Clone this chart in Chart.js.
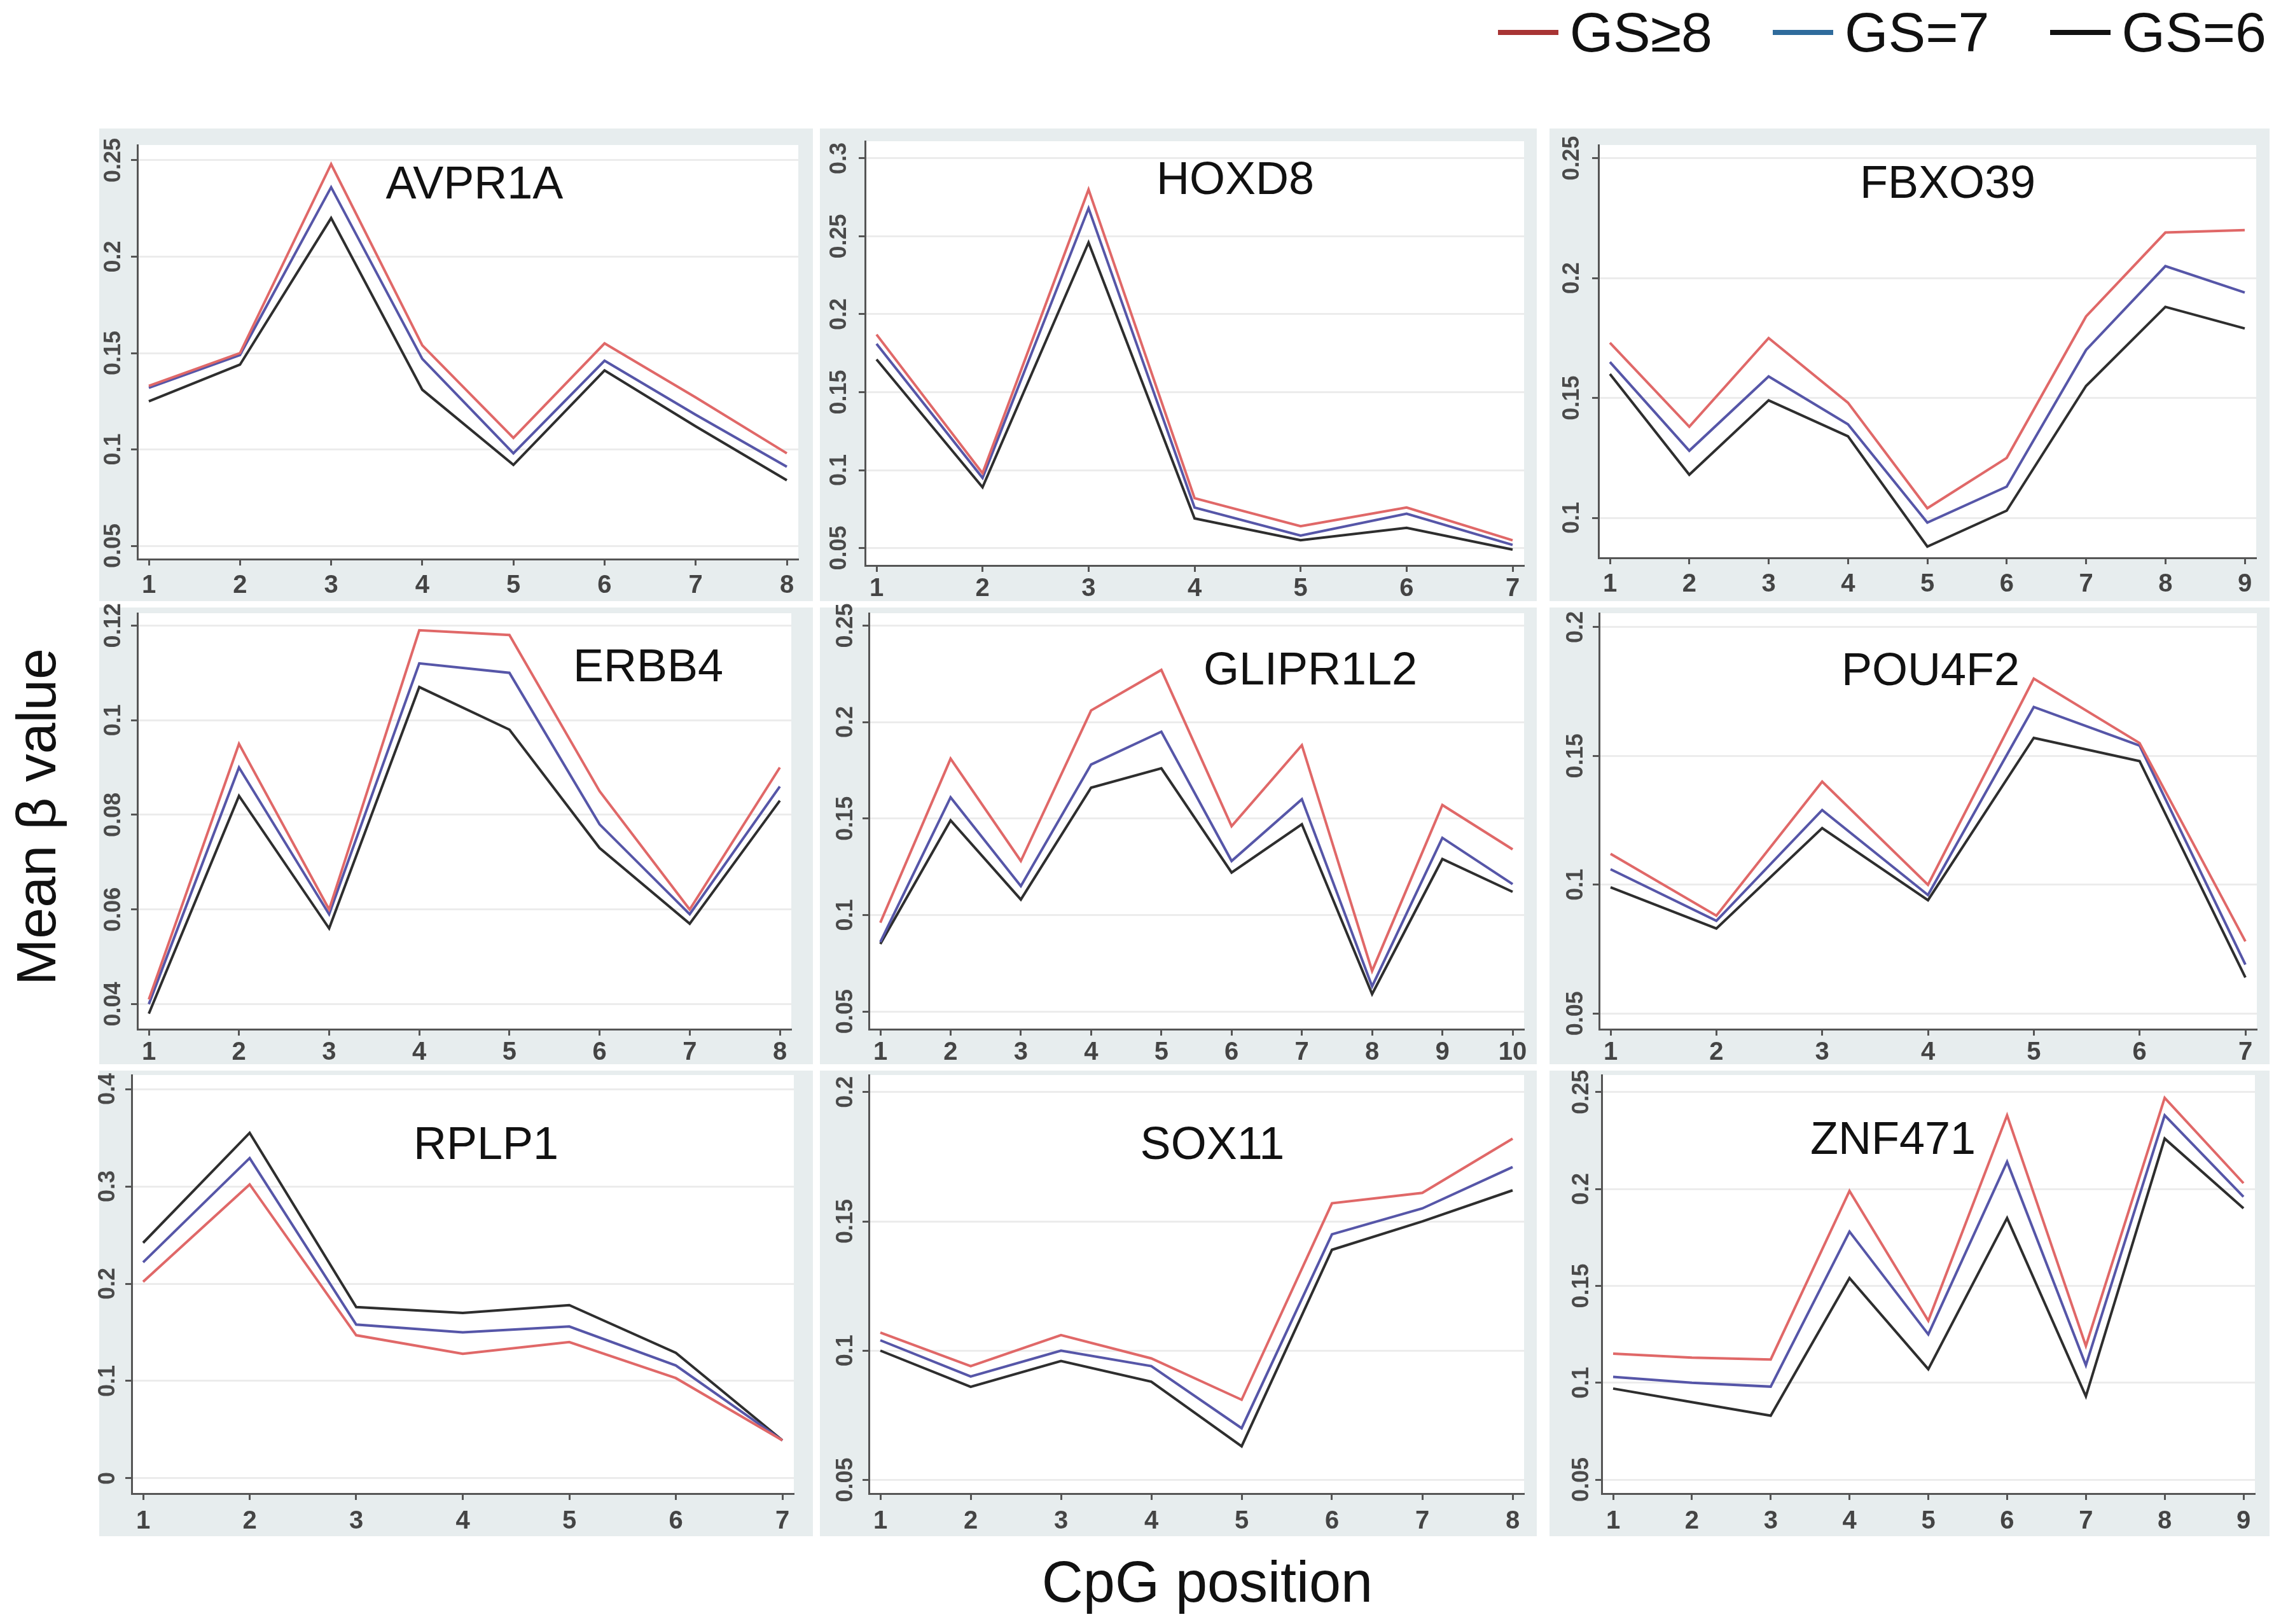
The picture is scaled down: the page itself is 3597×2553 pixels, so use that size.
<!DOCTYPE html>
<html>
<head>
<meta charset="utf-8">
<script src="https://cdn.jsdelivr.net/npm/chart.js@4.4.1/dist/chart.umd.min.js"></script>
<style>
  html, body { margin: 0; padding: 0; background: #fff; }
  body { width: 3597px; height: 2553px; position: relative; overflow: hidden;
         font-family: "Liberation Sans", Arial, sans-serif; }
  .panel { position: absolute; background: #e7edee; }
  .plot { position: absolute; }
  .gene { position: absolute; font-size: 72px; color: #111; line-height: 1;
          transform: translate(-50%, -50%); white-space: nowrap; }
  #legend { position: absolute; right: 34px; top: 7px; display: flex; align-items: center;
            font-size: 88px; line-height: 1; color: #111; }
  #legend .item { display: flex; align-items: center; margin-left: 95px; }
  #legend .swatch { width: 95px; height: 8px; margin-right: 18px; }
  .axis-title { position: absolute; font-size: 88px; line-height: 1; color: #111; white-space: nowrap; }
</style>
</head>
<body>
<div id="legend"></div>
<div class="axis-title" style="left:57px; top:1284px; transform: translate(-50%, -50%) rotate(-90deg);">Mean β value</div>
<div class="axis-title" style="left:1898px; top:2487px; transform: translate(-50%, -50%); font-size:90px;">CpG position</div>
<script>
// series / groups
const seriesNames = ['GS≥8', 'GS=7', 'GS=6'];

// CpG positions
const cpgAVPR1A = [1, 2, 3, 4, 5, 6, 7, 8];
const cpgHOXD8 = [1, 2, 3, 4, 5, 6, 7];
const cpgFBXO39 = [1, 2, 3, 4, 5, 6, 7, 8, 9];
const cpgERBB4 = [1, 2, 3, 4, 5, 6, 7, 8];
const cpgGLIPR1L2 = [1, 2, 3, 4, 5, 6, 7, 8, 9, 10];
const cpgPOU4F2 = [1, 2, 3, 4, 5, 6, 7];
const cpgRPLP1 = [1, 2, 3, 4, 5, 6, 7];
const cpgSOX11 = [1, 2, 3, 4, 5, 6, 7, 8];
const cpgZNF471 = [1, 2, 3, 4, 5, 6, 7, 8, 9];

// mean beta values
const avpr1aGs8 = [0.133, 0.150, 0.248, 0.154, 0.106, 0.155, 0.127, 0.098];
const avpr1aGs7 = [0.132, 0.149, 0.236, 0.147, 0.098, 0.146, 0.118, 0.091];
const avpr1aGs6 = [0.125, 0.144, 0.220, 0.131, 0.092, 0.141, 0.112, 0.084];

const hoxd8Gs8 = [0.187, 0.098, 0.280, 0.082, 0.064, 0.076, 0.055];
const hoxd8Gs7 = [0.181, 0.095, 0.268, 0.076, 0.058, 0.072, 0.052];
const hoxd8Gs6 = [0.171, 0.089, 0.246, 0.069, 0.055, 0.063, 0.049];

const fbxo39Gs8 = [0.173, 0.138, 0.175, 0.148, 0.104, 0.125, 0.184, 0.219, 0.220];
const fbxo39Gs7 = [0.165, 0.128, 0.159, 0.139, 0.098, 0.113, 0.170, 0.205, 0.194];
const fbxo39Gs6 = [0.160, 0.118, 0.149, 0.134, 0.088, 0.103, 0.155, 0.188, 0.179];

const erbb4Gs8 = [0.041, 0.095, 0.060, 0.119, 0.118, 0.085, 0.060, 0.090];
const erbb4Gs7 = [0.040, 0.090, 0.059, 0.112, 0.110, 0.078, 0.059, 0.086];
const erbb4Gs6 = [0.038, 0.084, 0.056, 0.107, 0.098, 0.073, 0.057, 0.083];

const glipr1l2Gs8 = [0.096, 0.181, 0.128, 0.206, 0.227, 0.146, 0.188, 0.071, 0.157, 0.134];
const glipr1l2Gs7 = [0.086, 0.161, 0.115, 0.178, 0.195, 0.128, 0.160, 0.063, 0.140, 0.116];
const glipr1l2Gs6 = [0.085, 0.149, 0.108, 0.166, 0.176, 0.122, 0.147, 0.059, 0.129, 0.112];

const pou4f2Gs8 = [0.112, 0.088, 0.140, 0.100, 0.180, 0.155, 0.078];
const pou4f2Gs7 = [0.106, 0.086, 0.129, 0.096, 0.169, 0.154, 0.069];
const pou4f2Gs6 = [0.099, 0.083, 0.122, 0.094, 0.157, 0.148, 0.064];

const rplp1Gs8 = [0.202, 0.302, 0.147, 0.128, 0.140, 0.103, 0.039];
const rplp1Gs7 = [0.222, 0.329, 0.158, 0.150, 0.156, 0.116, 0.039];
const rplp1Gs6 = [0.242, 0.355, 0.176, 0.170, 0.178, 0.129, 0.039];

const sox11Gs8 = [0.107, 0.094, 0.106, 0.097, 0.081, 0.157, 0.161, 0.182];
const sox11Gs7 = [0.104, 0.090, 0.100, 0.094, 0.070, 0.145, 0.155, 0.171];
const sox11Gs6 = [0.100, 0.086, 0.096, 0.088, 0.063, 0.139, 0.150, 0.162];

const znf471Gs8 = [0.115, 0.113, 0.112, 0.199, 0.132, 0.238, 0.119, 0.247, 0.203];
const znf471Gs7 = [0.103, 0.100, 0.098, 0.178, 0.125, 0.214, 0.109, 0.238, 0.196];
const znf471Gs6 = [0.097, 0.090, 0.083, 0.154, 0.107, 0.185, 0.093, 0.226, 0.190];

// y tick labels
const yTicksAVPR1A = [0.05, 0.1, 0.15, 0.2, 0.25];
const yTicksHOXD8 = [0.05, 0.1, 0.15, 0.2, 0.25, 0.3];
const yTicksFBXO39 = [0.1, 0.15, 0.2, 0.25];
const yTicksERBB4 = [0.04, 0.06, 0.08, 0.1, 0.12];
const yTicksGLIPR1L2 = [0.05, 0.1, 0.15, 0.2, 0.25];
const yTicksPOU4F2 = [0.05, 0.1, 0.15, 0.2];
const yTicksRPLP1 = [0, 0.1, 0.2, 0.3, 0.4];
const yTicksSOX11 = [0.05, 0.1, 0.15, 0.2];
const yTicksZNF471 = [0.05, 0.1, 0.15, 0.2, 0.25];

const panels = [
  { gene: 'AVPR1A', cpg: cpgAVPR1A, series: [avpr1aGs8, avpr1aGs7, avpr1aGs6], yTicks: yTicksAVPR1A },
  { gene: 'HOXD8', cpg: cpgHOXD8, series: [hoxd8Gs8, hoxd8Gs7, hoxd8Gs6], yTicks: yTicksHOXD8 },
  { gene: 'FBXO39', cpg: cpgFBXO39, series: [fbxo39Gs8, fbxo39Gs7, fbxo39Gs6], yTicks: yTicksFBXO39 },
  { gene: 'ERBB4', cpg: cpgERBB4, series: [erbb4Gs8, erbb4Gs7, erbb4Gs6], yTicks: yTicksERBB4 },
  { gene: 'GLIPR1L2', cpg: cpgGLIPR1L2, series: [glipr1l2Gs8, glipr1l2Gs7, glipr1l2Gs6], yTicks: yTicksGLIPR1L2 },
  { gene: 'POU4F2', cpg: cpgPOU4F2, series: [pou4f2Gs8, pou4f2Gs7, pou4f2Gs6], yTicks: yTicksPOU4F2 },
  { gene: 'RPLP1', cpg: cpgRPLP1, series: [rplp1Gs8, rplp1Gs7, rplp1Gs6], yTicks: yTicksRPLP1 },
  { gene: 'SOX11', cpg: cpgSOX11, series: [sox11Gs8, sox11Gs7, sox11Gs6], yTicks: yTicksSOX11 },
  { gene: 'ZNF471', cpg: cpgZNF471, series: [znf471Gs8, znf471Gs7, znf471Gs6], yTicks: yTicksZNF471 }
];

// layout: axis extents, panel boxes [frameL, frameT, frameR, frameB, plotL, plotT, plotR, axisY], title centres
const yRanges = [
  [0.0431, 0.2579], [0.0388, 0.311], [0.0833, 0.2555],
  [0.0347, 0.1226], [0.0408, 0.2564], [0.0439, 0.2054],
  [-0.0157, 0.4144], [0.0447, 0.2066], [0.0428, 0.2588]
];
const boxes = [
  [156, 202, 1278, 945, 216, 228, 1255, 879],
  [1289, 202, 2416, 945, 1360, 222, 2396, 889],
  [2436, 202, 3568, 945, 2513, 228, 3547, 877],
  [156, 955, 1278, 1673, 216, 964, 1244, 1618],
  [1289, 955, 2416, 1673, 1366, 964, 2396, 1618],
  [2436, 955, 3568, 1673, 2514, 964, 3548, 1618],
  [156, 1683, 1278, 2415, 207, 1690, 1248, 2348],
  [1289, 1683, 2416, 2415, 1366, 1690, 2396, 2348],
  [2436, 1683, 3568, 2415, 2518, 1690, 3545, 2348]
];
const xLabelPad = [8, 3, 8, 3, 3, 3, 10, 10, 10];
const yLabelOffset = [37, 40, 41, 37, 36, 36, 37, 36, 31];
const titlePos = [
  [746, 287], [1942, 280], [3062, 286],
  [1019, 1046], [2060, 1051], [3035, 1052],
  [764, 1797], [1906, 1797], [2976, 1789]
];
const bleed = 24;

const lineColors = ['#e06868', '#5656a8', '#2e2e2e'];
const legendColors = ['#a83434', '#2f6b9c', '#111111'];

// legend
const legend = document.getElementById('legend');
seriesNames.forEach((name, k) => {
  const item = document.createElement('div');
  item.className = 'item';
  const sw = document.createElement('div');
  sw.className = 'swatch';
  sw.style.background = legendColors[k];
  const txt = document.createElement('span');
  txt.textContent = name;
  item.appendChild(sw);
  item.appendChild(txt);
  legend.appendChild(item);
});

// white plot region
const plotBg = {
  id: 'plotBg',
  beforeDraw(chart) {
    const { ctx, chartArea: a } = chart;
    ctx.save();
    ctx.fillStyle = '#ffffff';
    ctx.fillRect(a.left, a.top, a.right - a.left, a.bottom - a.top);
    ctx.restore();
  }
};

const fontFamily = '"Liberation Sans", Arial, sans-serif';
const xTickFont = { family: fontFamily, size: 40, weight: 'bold' };
const yTickFont = { family: fontFamily, size: 36, weight: 'bold' };
const meas = document.createElement('canvas').getContext('2d');
meas.font = 'bold 36px ' + fontFamily;
const fmt = v => String(+Number(v).toFixed(3));

panels.forEach((p, i) => {
  const [fl, ft, fr, fb, pl, pt, pr, ay] = boxes[i];
  const frame = document.createElement('div');
  frame.className = 'panel';
  frame.style.left = fl + 'px';
  frame.style.top = ft + 'px';
  frame.style.width = (fr - fl) + 'px';
  frame.style.height = (fb - ft) + 'px';
  document.body.appendChild(frame);

  const wrap = document.createElement('div');
  wrap.className = 'plot';
  wrap.style.left = (fl - bleed) + 'px';
  wrap.style.top = (ft - bleed) + 'px';
  wrap.style.width = (fr - fl + 2 * bleed) + 'px';
  wrap.style.height = (fb - ft + 2 * bleed) + 'px';
  const cv = document.createElement('canvas');
  wrap.appendChild(cv);
  document.body.appendChild(wrap);

  const title = document.createElement('div');
  title.className = 'gene';
  title.textContent = p.gene;
  title.style.left = titlePos[i][0] + 'px';
  title.style.top = titlePos[i][1] + 'px';
  document.body.appendChild(title);

  const n = p.cpg.length;
  const pad = 18 * (n - 1) / (pr - pl - 36);
  const widest = Math.max(...p.yTicks.map(v => meas.measureText(fmt(v)).width));

  new Chart(cv, {
    type: 'line',
    data: {
      datasets: p.series.map((vals, k) => ({
        label: seriesNames[k],
        data: vals.map((v, j) => ({ x: p.cpg[j], y: v })),
        borderColor: lineColors[k],
        borderWidth: 4,
        pointRadius: 0,
        tension: 0,
        fill: false
      }))
    },
    options: {
      responsive: true,
      maintainAspectRatio: false,
      animation: false,
      devicePixelRatio: 1,
      layout: { padding: { top: pt - ft + bleed, right: fr - pr + bleed, left: 0, bottom: 0 } },
      plugins: { legend: { display: false }, tooltip: { enabled: false } },
      scales: {
        x: {
          type: 'linear',
          min: 1 - pad,
          max: n + pad,
          afterBuildTicks: s => { s.ticks = p.cpg.map(v => ({ value: v })); },
          afterFit: s => { s.height = fb - ay + bleed; },
          grid: { drawOnChartArea: false, drawTicks: true, tickLength: 10, tickWidth: 3, tickColor: '#555' },
          border: { display: true, color: '#555', width: 3 },
          ticks: { font: xTickFont, color: '#444', padding: xLabelPad[i], autoSkip: false, maxRotation: 0,
                   callback: v => String(v) }
        },
        y: {
          min: yRanges[i][0],
          max: yRanges[i][1],
          afterBuildTicks: s => { s.ticks = p.yTicks.map(v => ({ value: v })); },
          afterFit: s => { s.width = pl - fl + bleed; },
          grid: { color: '#ececec', lineWidth: 3, drawTicks: true, tickLength: 10, tickWidth: 3, tickColor: '#555' },
          border: { display: true, color: '#555', width: 3 },
          ticks: { font: yTickFont, color: '#4a4a4a', minRotation: 90, maxRotation: 90, crossAlign: 'center',
                   padding: yLabelOffset[i] - 10 - widest / 2, callback: v => fmt(v) }
        }
      }
    },
    plugins: [plotBg]
  });
});
</script>
</body>
</html>
